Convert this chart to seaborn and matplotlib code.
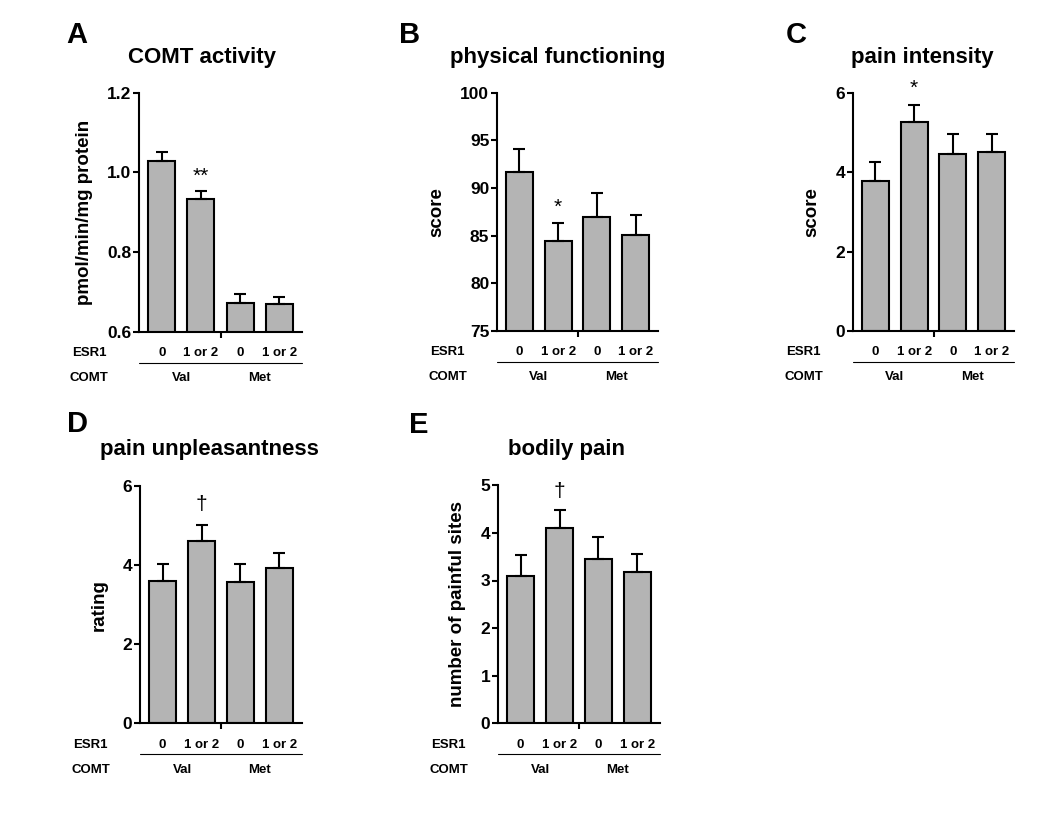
import numpy as np
import pandas as pd
import seaborn as sns
import matplotlib
matplotlib.use("Agg")
import matplotlib.pyplot as plt

# data (mean and upper SEM)
groups = ["Val/0", "Val/1 or 2", "Met/0", "Met/1 or 2"]
esr1_labels = ["0", "1 or 2", "0", "1 or 2"]
comt_labels = ["Val", "Met"]

comt_mean = [1.028, 0.933, 0.673, 0.669]
comt_sem = [0.022, 0.020, 0.021, 0.018]
phys_mean = [91.7, 84.4, 87.0, 85.1]
phys_sem = [2.4, 1.9, 2.5, 2.1]
inten_mean = [3.78, 5.25, 4.45, 4.50]
inten_sem = [0.48, 0.45, 0.52, 0.45]
unpl_mean = [3.60, 4.61, 3.58, 3.92]
unpl_sem = [0.44, 0.40, 0.45, 0.38]
body_mean = [3.10, 4.10, 3.45, 3.17]
body_sem = [0.44, 0.38, 0.46, 0.39]

sns.set_style("ticks", {"axes.edgecolor": "black", "text.color": "black",
                        "axes.labelcolor": "black", "xtick.color": "black",
                        "ytick.color": "black"})
plt.rcParams['font.family'] = ['Liberation Sans', 'DejaVu Sans']
plt.rcParams['font.weight'] = 'bold'

W, H = 1050, 814
fig = plt.figure(figsize=(W / 100, H / 100), dpi=100)

def px_axes(x0, x1, ytop, ybot):
    return fig.add_axes([x0 / W, 1 - ybot / H, (x1 - x0) / W, (ybot - ytop) / H])

panels = [
    # letter, title, ylabel, means, sems, ylim, yticks, ytl, rect px, letter px, title px, ylab x, sig
    ("A", "COMT activity", "pmol/min/mg protein", comt_mean, comt_sem, (0.6, 1.2),
     [0.6, 0.8, 1.0, 1.2], ["0.6", "0.8", "1.0", "1.2"], (139, 302, 92.7, 331.7),
     (66, 35), (202, 58), -0.28, ("**", 0.99)),
    ("B", "physical functioning", "score", phys_mean, phys_sem, (75, 100),
     [75, 80, 85, 90, 95, 100], None, (497, 658, 92.7, 331.0),
     (399, 35), (558, 58), -0.32, ("*", 88.0)),
    ("C", "pain intensity", "score", inten_mean, inten_sem, (0, 6),
     [0, 2, 4, 6], None, (853, 1014, 92.7, 331.0),
     (786, 35), (922, 58), -0.205, ("*", 6.1)),
    ("D", "pain unpleasantness", "rating", unpl_mean, unpl_sem, (0, 6),
     [0, 2, 4, 6], None, (140, 302, 486, 723.3),
     (67, 424), (209, 450), -0.20, ("\u2020", 5.52)),
    ("E", "bodily pain", "number of painful sites", body_mean, body_sem, (0, 5),
     [0, 1, 2, 3, 4, 5], None, (498, 660, 485.3, 723.3),
     (409, 425), (567, 450), -0.20, ("\u2020", 4.87)),
]

for (letter, title, ylab, means, sems, ylim, yticks, ytl, rect,
     lpos, tpos, ylx, sig) in panels:
    ax = px_axes(*rect)
    df = pd.DataFrame({"group": groups, "value": means})
    sns.barplot(data=df, x="group", y="value", order=groups, color="#b4b4b4",
                saturation=1, edgecolor="black", linewidth=1.5, width=0.69,
                errorbar=None, ax=ax)
    ax.errorbar(np.arange(4), means, yerr=[np.zeros(4), sems], fmt="none",
                ecolor="black", elinewidth=1.5, capsize=4, capthick=1.5, zorder=1)
    ax.set_ylim(*ylim)
    ax.set_xlim(-0.58, 3.58)
    ax.set_yticks(yticks)
    if ytl:
        ax.set_yticklabels(ytl)
    ax.set_xticks([1.5])
    ax.set_xticklabels([])
    ax.tick_params(axis="y", length=4.5, width=1.5, pad=1, labelsize=12.5)
    ax.tick_params(axis="x", length=4, width=1.5)
    for s in ["left", "bottom"]:
        ax.spines[s].set_linewidth(1.5)
    sns.despine(ax=ax)
    for lab in ax.get_yticklabels():
        lab.set_fontweight("bold")
    ax.set_xlabel("")
    ax.set_ylabel(ylab, fontsize=13.5, fontweight="bold")
    ax.yaxis.set_label_coords(ylx, 0.5)

    # significance marker
    ax.text(1, sig[1], sig[0], ha="center", va="center", fontsize=15,
            fontweight="normal", clip_on=False)

    # group labels below the axis
    tr = ax.get_xaxis_transform()
    ax.text(-1.85, -0.09, "ESR1", transform=tr, ha="center", va="center", fontsize=9.5)
    ax.text(-1.85, -0.195, "COMT", transform=tr, ha="center", va="center", fontsize=9.5)
    for i, t in enumerate(esr1_labels):
        ax.text(i, -0.09, t, transform=tr, ha="center", va="center", fontsize=9.5)
    for i, t in enumerate(comt_labels):
        ax.text(0.5 + 2 * i, -0.195, t, transform=tr, ha="center", va="center", fontsize=9.5)
    ax.plot([0, 1], [-0.13, -0.13], transform=ax.transAxes, color="black",
            lw=0.8, clip_on=False)

    fig.text(lpos[0] / W, 1 - lpos[1] / H, letter, fontsize=21, fontweight="bold",
             ha="left", va="center")
    fig.text(tpos[0] / W, 1 - tpos[1] / H, title, fontsize=16, fontweight="bold",
             ha="center", va="center")

fig.savefig("out.png", dpi=100)
